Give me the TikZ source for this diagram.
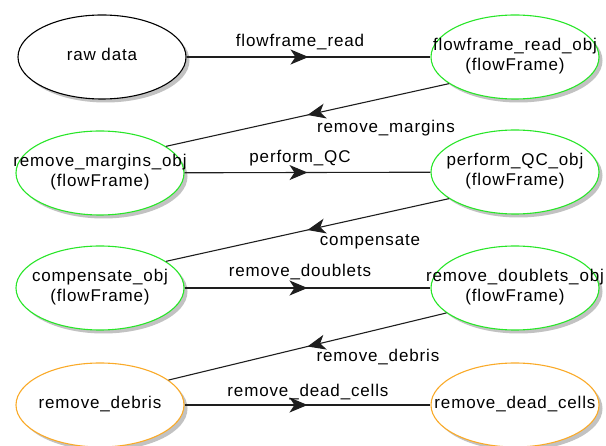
\documentclass[tikz,border=0pt]{standalone}
\usepackage{fontspec}
\setmainfont{Liberation Sans}[LetterSpace=5]
\usetikzlibrary{shapes.geometric,shadows,decorations.markings,arrows.meta}
\definecolor{objgreen}{RGB}{40,230,40}
\definecolor{objorange}{RGB}{250,170,40}
\definecolor{edgegray}{RGB}{30,30,30}
\newcommand{\ctext}[1]{\makebox[0pt]{\begin{tabular}{@{}c@{}}#1\end{tabular}}}
\begin{document}
\begin{tikzpicture}[x=1pt,y=-1pt,
  txt/.style={font=\fontsize{17}{20}\selectfont},
  obj/.style={ellipse, draw, line width=1.1pt, fill=white, minimum width=168pt, minimum height=84pt,
    inner sep=0pt, txt,
    drop shadow={shadow xshift=3.5pt, shadow yshift=-3.5pt, fill=black!40, opacity=0.6}},
  rawobj/.style={obj, draw=black},
  greenobj/.style={obj, draw=objgreen},
  orangeobj/.style={obj, draw=objorange},
  link/.style={draw=edgegray, line width=1.1pt,
    postaction={decorate, decoration={markings, mark=at position 0.5 with {\arrow{Stealth[length=18pt,width=15pt,inset=5pt]}}}}},
  elabel/.style={txt, inner sep=0pt}
]
\useasboundingbox (0,0) rectangle (606,446);

\node[rawobj] (raw) at (102,57) {\ctext{raw data}};
\node[greenobj] (ffr) at (515,57) {\ctext{flowframe\_read\_obj\\(flowFrame)}};
\node[greenobj] (rmo) at (100,173) {\ctext{remove\_margins\_obj\\(flowFrame)}};
\node[greenobj] (pqc) at (515,172) {\ctext{perform\_QC\_obj\\(flowFrame)}};
\node[greenobj] (cmp) at (100,288) {\ctext{compensate\_obj\\(flowFrame)}};
\node[greenobj] (rdb) at (515,288) {\ctext{remove\_doublets\_obj\\(flowFrame)}};
\node[orangeobj] (rdeb) at (100,405) {\ctext{remove\_debris}};
\node[orangeobj] (rdc) at (515,405) {\ctext{remove\_dead\_cells}};

\draw[link] (raw) -- (ffr);
\draw[link] (rmo) -- (pqc);
\draw[link] (cmp) -- (rdb);
\draw[link] (rdeb) -- (rdc);
\draw[link] (ffr.202) -- (rmo.22);
\draw[link] (pqc.202) -- (cmp.22);
\draw[link] (rdb.200) -- (rdeb.20);

\node[elabel] (l1) at (300,42) {flowframe\_read};
\node[elabel] (l2) at (300,158) {perform\_QC};
\node[elabel] (l3) at (300,272) {remove\_doublets};
\node[elabel] (l4) at (308,392) {remove\_dead\_cells};
\node[elabel] (l5) at (386,128) {remove\_margins};
\node[elabel] (l6) at (370,242) {compensate};
\node[elabel] (l7) at (378,357) {remove\_debris};
\end{tikzpicture}
\end{document}
